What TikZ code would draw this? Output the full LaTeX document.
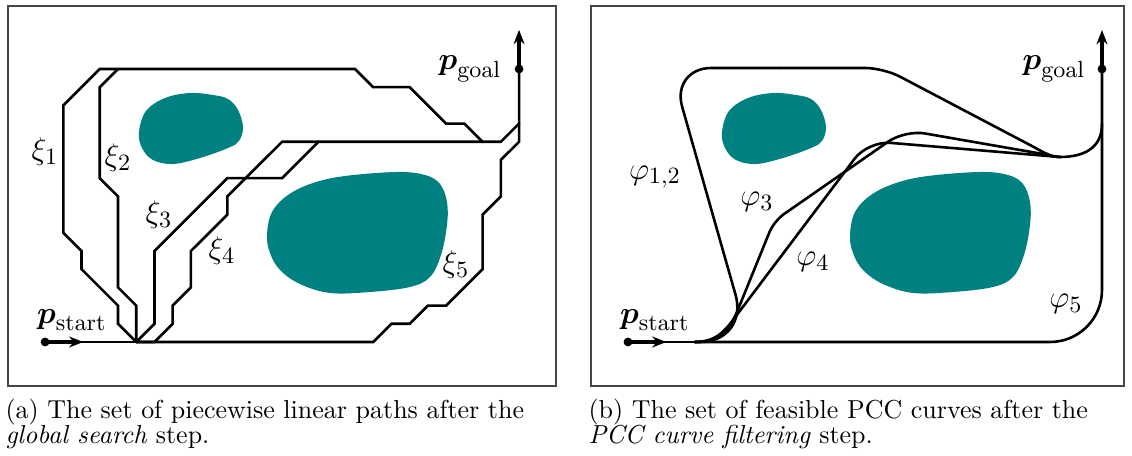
\documentclass[tikz,border=0pt]{standalone}
\usepackage{amsmath}
\usetikzlibrary{arrows.meta}
\definecolor{obst}{RGB}{0,128,128}
\definecolor{framegray}{RGB}{70,70,70}
\tikzset{
  pathline/.style={line width=1pt, line cap=round},
  framebox/.style={draw=framegray, line width=0.55pt},
  obstacle/.style={fill=obst, draw=none},
  lbl/.style={font=\fontsize{13}{15}\selectfont, inner sep=0pt},
  dotst/.style={circle, fill=black, inner sep=0pt, minimum size=3.4pt},
  dirarrow/.style={line width=1.3pt, -{Stealth[length=5.5pt,width=4.2pt]}},
  captxt/.style={anchor=base west, inner sep=0pt, font=\fontsize{10}{12}\selectfont}
}
\begin{document}
\begin{tikzpicture}[x=0.385pt,y=-0.385pt]
\useasboundingbox (0,0) rectangle (1132,456);
% frames
\draw[framebox] (8,6) rectangle (556,386);
\draw[framebox] (591,6) rectangle (1124,386);
% obstacles (same in both panels)
\foreach \dx in {0,583}{
  \begin{scope}[shift={(\dx,0)}]
    \fill[obstacle] plot[smooth cycle, tension=0.6] coordinates {
      (139,132) (146,111) (165,98) (190,93) (213,95) (228,99) (238,110)
      (243,127) (239,141) (228,148) (200,158) (173,164) (153,160) (142,148)};
    \fill[obstacle] plot[smooth cycle, tension=0.6] coordinates {
      (267,235) (272,212) (288,195) (313,183) (345,176) (397,172) (425,175)
      (440,184) (447,202) (447,225) (441,255) (430,277) (410,287) (370,292)
      (330,293) (300,284) (280,270) (270,253)};
  \end{scope}
}
% ---------------- left panel: piecewise linear paths ----------------
\begin{scope}[shift={(63.3,342)}, x=7.0186pt, y=7.007pt]
  \coordinate (J) at (4,0);
  \node[dotst] (S) at (-1,0) {};
  \coordinate (Stip) at (1.1,0);
  \node[dotst] (G) at (25,15) {};
  \coordinate (Gtip) at (25,17.15);
  \draw[pathline] (S) -- (J);
  % xi_1
  \draw[pathline] (J) -- (3,1) -- (3,2) -- (1,4) -- (1,5) -- (0,6) -- (0,13) -- (2,15)
     -- (16,15) -- (17,14) -- (19,14) -- (21,12) -- (22,12) -- (23,11) -- (24,11) -- (25,12) -- (G.center);
  % xi_2
  \draw[pathline] (J) -- (4,2) -- (3,3) -- (3,8) -- (2,9) -- (2,14) -- (3,15);
  % xi_3
  \draw[pathline] (J) -- (5,1) -- (5,5) -- (9,9) -- (12,9) -- (14,11) -- (23,11);
  % xi_4
  \draw[pathline] (J) -- (5,0) -- (6,1) -- (6,2) -- (7,3) -- (7,5) -- (9,7) -- (9,8) -- (12,11) -- (14,11);
  % xi_5
  \draw[pathline] (J) -- (17,0) -- (18,1) -- (19,1) -- (20,2) -- (21,2) -- (23,4) -- (23,7)
     -- (24,8) -- (24,10) -- (25,11) -- (25,12);
  \draw[dirarrow] (S.center) -- (Stip);
  \draw[dirarrow] (G.center) -- (Gtip);
\end{scope}
\node[lbl] at (45,152) {$\xi_1$};
\node[lbl] at (118,158) {$\xi_2$};
\node[lbl] at (159,215) {$\xi_3$};
\node[lbl] at (222,251) {$\xi_4$};
\node[lbl] at (456,265) {$\xi_5$};
\node[lbl] at (72,320) {$\boldsymbol{p}_{\mathrm{start}}$};
\node[lbl] at (470,69) {$\boldsymbol{p}_{\mathrm{goal}}$};
% ---------------- right panel: PCC curves ----------------
\node[dotst] (S2) at (628,342) {};
\coordinate (S2tip) at (666.5,342);
\node[dotst] (G2) at (1102,69) {};
\coordinate (G2tip) at (1102,30);
\coordinate (A0) at (695,342);
\coordinate (H) at (1060,157);
\draw[pathline] (S2) -- (A0);
% phi_5
\draw[pathline, rounded corners=20pt] (A0) -- (1102,342) -- (G2.center);
% final hook shared by phi_1,2 / phi_3 / phi_4
\draw[pathline] (H) .. controls (1084,157) and (1102,148) .. (1102,124);
% phi_1,2
\draw[pathline, rounded corners=18.9pt] (A0) -- (749,342) -- (710,205);
\draw[pathline, rounded corners=15.4pt] (710,205) -- (671.2,68) -- (780,68);
\draw[pathline, rounded corners=7pt] (780,68) -- (883.5,68) -- (1030,145);
\draw[pathline] (1030,145) .. controls (1041,150.8) and (1050,157) .. (H);
% phi_3
\draw[pathline] (A0) .. controls (716,342) and (728,333) .. (737,312) -- (755.5,266.5);
\draw[pathline, rounded corners=4.6pt] (755.5,266.5) -- (774,221) -- (839.5,175.5);
\draw[pathline, rounded corners=7.7pt] (839.5,175.5) -- (905,130) -- (1040,153.5);
\draw[pathline] (1040,153.5) .. controls (1047,154.7) and (1053,157) .. (H);
% phi_4
\draw[pathline] (A0) .. controls (715,342) and (724,332) .. (733,320) -- (800.5,230.5);
\draw[pathline, rounded corners=8.5pt] (800.5,230.5) -- (868,141) -- (H);
\draw[dirarrow] (S2.center) -- (S2tip);
\draw[dirarrow] (G2.center) -- (G2tip);
\node[lbl] at (655,177) {$\varphi_{1,2}$};
\node[lbl] at (757,202) {$\varphi_3$};
\node[lbl] at (813,262) {$\varphi_4$};
\node[lbl] at (1066,304) {$\varphi_5$};
\node[lbl] at (655,320) {$\boldsymbol{p}_{\mathrm{start}}$};
\node[lbl] at (1054,69) {$\boldsymbol{p}_{\mathrm{goal}}$};
% captions
\node[captxt] at (5,419) {(a) The set of piecewise linear paths after the};
\node[captxt] at (5,444) {\textit{global search} step.};
\node[captxt] at (588,419) {(b) The set of feasible PCC curves after the};
\node[captxt] at (588,444) {\textit{PCC curve filtering} step.};
\end{tikzpicture}
\end{document}
